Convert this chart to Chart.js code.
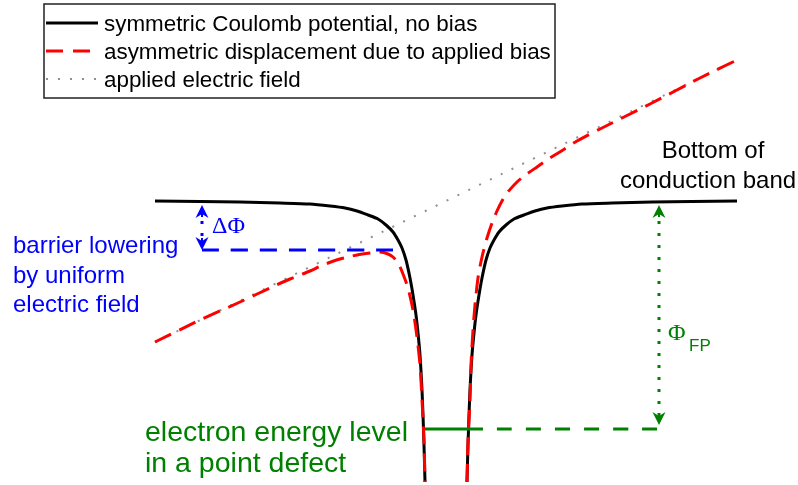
<!DOCTYPE html>
<html><head><meta charset="utf-8">
<script src="https://cdn.jsdelivr.net/npm/chart.js@4/dist/chart.umd.min.js"></script>
<style>html,body{margin:0;padding:0;background:#fff;}canvas{display:block;}</style>
</head><body>
<canvas id="c" width="798" height="485"></canvas>
<script>
// ---- data (position x, energy E; arbitrary units, E=0 at conduction band edge) ----
const seriesNames = ["symmetric Coulomb potential, no bias", "asymmetric displacement due to applied bias", "applied electric field"];

const blackLeftX = [-29.1,-24.6,-20.6,-16.6,-13.6,-11.6,-10.1,-8.9,-7.8,-6.8,-6.0,-5.3,-4.8,-4.4,-4.0,-3.6,-3.3,-3.0,-2.8,-2.6,-2.4,-2.3,-2.2,-2.1];
const blackLeftE = [0,-0.05,-0.1,-0.2,-0.3,-0.5,-0.7,-1.0,-1.4,-1.8,-2.4,-3.1,-3.9,-4.7,-5.9,-7.7,-9.4,-11.4,-13.2,-15.4,-18.9,-21.4,-24.4,-28.1];
const blackRightX = [2.1,2.2,2.3,2.4,2.6,2.8,3.0,3.3,3.6,4.0,4.4,4.8,5.3,6.0,6.8,7.8,8.9,10.1,11.6,13.6,16.6,20.6,24.6,29.1];
const blackRightE = [-28.1,-24.4,-21.4,-18.9,-15.4,-13.2,-11.4,-9.4,-7.7,-5.9,-4.7,-3.9,-3.1,-2.4,-1.8,-1.4,-1.0,-0.7,-0.5,-0.3,-0.2,-0.1,-0.05,0];

const redLeftX = [-29.1,-24.6,-20.6,-17.6,-15.6,-13.6,-12.3,-10.6,-8.9,-7.6,-6.6,-5.8,-5.3,-4.8,-4.3,-3.8,-3.3,-2.9,-2.6,-2.4,-2.2,-2.1];
const redLeftE = [-14.1,-11.9,-10.1,-8.7,-7.8,-7.0,-6.4,-5.8,-5.4,-5.2,-5.1,-5.3,-5.6,-6.2,-7.3,-8.7,-10.9,-13.6,-16.4,-19.9,-23.9,-28.1];
const redRightX = [2.1,2.2,2.4,2.5,2.7,2.9,3.2,3.6,4.1,4.6,5.1,5.6,6.1,7.1,8.1,9.1,10.4,11.7,13.1,15.4,20.4,25.4,29.1];
const redRightE = [-28.1,-23.9,-19.9,-16.4,-12.9,-10.4,-7.7,-5.6,-3.7,-2.2,-1.0,0,0.8,1.9,2.7,3.4,4.3,5.1,6.0,7.2,9.7,12.3,14.1];

const fieldX = [-29.1, 29.1];
const fieldE = [-14.1, 14.1];

const barrierX = [-24.4, -5.3];
const barrierE = [-4.9, -4.9];

const levelSolidX = [-2.1, 3.6];
const levelDashX = [3.6, 21.2];
const levelE = -22.8;

const deltaPhiArrow = {x: -24.4, top: -0.4, bottom: -4.9};
const phiFPArrow = {x: 21.3, top: -0.4, bottom: -22.4};

function pts(xs, ys){ return xs.map((x,i)=>({x:x, y: Array.isArray(ys) ? ys[i] : ys})); }

const BLACK = '#000000', RED = '#ff0000', GRAY = '#8f8f8f', BLUE = '#0000ff', GREEN = '#008000';
const SANS = '"Liberation Sans", Arial, sans-serif';
const SERIF = '"Liberation Serif", "Times New Roman", serif';

function head(ctx, x, tip, dir, color){
  ctx.save();
  ctx.fillStyle = color;
  ctx.beginPath();
  ctx.moveTo(x, tip);
  ctx.lineTo(x - 6.5, tip - dir*13);
  ctx.lineTo(x, tip - dir*9);
  ctx.lineTo(x + 6.5, tip - dir*13);
  ctx.closePath();
  ctx.fill();
  ctx.restore();
}
function dottedArrow(ctx, x, yTop, yBot, color){
  ctx.save();
  ctx.strokeStyle = color;
  ctx.lineWidth = 3;
  ctx.setLineDash([3, 9]);
  ctx.beginPath();
  ctx.moveTo(x, yTop + 16);
  ctx.lineTo(x, yBot - 10);
  ctx.stroke();
  ctx.setLineDash([]);
  ctx.lineWidth = 2;
  ctx.beginPath(); ctx.moveTo(x, yTop+2); ctx.lineTo(x, yTop+12); ctx.stroke();
  ctx.beginPath(); ctx.moveTo(x, yBot-2); ctx.lineTo(x, yBot-12); ctx.stroke();
  ctx.restore();
  head(ctx, x, yTop, -1, color);
  head(ctx, x, yBot, 1, color);
}

const annot = {
  id: 'annot',
  afterDatasetsDraw(chart){
    const ctx = chart.ctx, sx = chart.scales.x, sy = chart.scales.y;
    dottedArrow(ctx, sx.getPixelForValue(deltaPhiArrow.x), sy.getPixelForValue(deltaPhiArrow.top), sy.getPixelForValue(deltaPhiArrow.bottom), BLUE);
    dottedArrow(ctx, sx.getPixelForValue(phiFPArrow.x), sy.getPixelForValue(phiFPArrow.top), sy.getPixelForValue(phiFPArrow.bottom), GREEN);

    ctx.save();
    ctx.textBaseline = 'alphabetic';
    ctx.fillStyle = BLACK;
    ctx.font = '24px ' + SANS;
    ctx.textAlign = 'center';
    ctx.fillText('Bottom of', 713, 158);
    ctx.fillText('conduction band', 708, 188);

    ctx.textAlign = 'left';
    ctx.fillStyle = BLUE;
    ctx.fillText('barrier lowering', 13, 253);
    ctx.fillText('by uniform', 13, 283);
    ctx.fillText('electric field', 13, 312);
    ctx.font = '24px ' + SERIF;
    ctx.fillText('\u0394\u03A6', 212, 233);

    ctx.fillStyle = GREEN;
    ctx.font = '28.5px ' + SANS;
    ctx.fillText('electron energy level', 145, 441);
    ctx.fillText('in a point defect', 145, 472);
    ctx.font = '24px ' + SERIF;
    ctx.fillText('\u03A6', 668, 340);
    ctx.font = '17px ' + SANS;
    ctx.fillText('FP', 689, 351);

    // legend
    ctx.fillStyle = '#ffffff';
    ctx.fillRect(44, 4, 511, 94);
    ctx.strokeStyle = '#222';
    ctx.lineWidth = 1.5;
    ctx.strokeRect(44, 4, 511, 94);
    const rows = [23, 51, 79];
    const styles = [
      {c: BLACK, w: 3, d: []},
      {c: RED, w: 3, d: [17, 10]},
      {c: GRAY, w: 2, d: [2, 10]}
    ];
    ctx.font = '22.4px ' + SANS;
    for (let i = 0; i < 3; i++){
      ctx.save();
      ctx.strokeStyle = styles[i].c; ctx.lineWidth = styles[i].w; ctx.setLineDash(styles[i].d);
      ctx.beginPath(); ctx.moveTo(46, rows[i]); ctx.lineTo(98, rows[i]); ctx.stroke();
      ctx.restore();
      ctx.fillStyle = BLACK;
      ctx.fillText(seriesNames[i], 104, rows[i] + 8);
    }
    ctx.restore();
  }
};

const base = {pointRadius: 0, fill: false, showLine: true, tension: 0.25};
new Chart(document.getElementById('c'), {
  type: 'line',
  data: { datasets: [
    Object.assign({label: seriesNames[2], data: pts(fieldX, fieldE), borderColor: GRAY, borderWidth: 2, borderDash: [2, 10], order: 6}, base),
    Object.assign({label: seriesNames[0], data: pts(blackLeftX, blackLeftE), borderColor: BLACK, borderWidth: 3, order: 5}, base),
    Object.assign({label: seriesNames[0] + ' (right)', data: pts(blackRightX, blackRightE), borderColor: BLACK, borderWidth: 3, order: 5}, base),
    Object.assign({label: seriesNames[1], data: pts(redLeftX, redLeftE), borderColor: RED, borderWidth: 3, borderDash: [18, 9], order: 4}, base),
    Object.assign({label: seriesNames[1] + ' (right)', data: pts(redRightX, redRightE), borderColor: RED, borderWidth: 3, borderDash: [18, 9], order: 4}, base),
    Object.assign({label: 'barrier level', data: pts(barrierX, barrierE), borderColor: BLUE, borderWidth: 3, borderDash: [17, 12], order: 3}, base),
    Object.assign({label: 'defect level', data: pts(levelSolidX, levelE), borderColor: GREEN, borderWidth: 3, order: 2}, base),
    Object.assign({label: 'defect level (to CB)', data: pts(levelDashX, levelE), borderColor: GREEN, borderWidth: 3, borderDash: [15, 14], borderDashOffset: 14, order: 2}, base)
  ]},
  options: {
    responsive: false, animation: false,
    layout: {padding: 0},
    plugins: {legend: {display: false}, tooltip: {enabled: false}},
    scales: {
      x: {type: 'linear', min: -44.6, max: 35.2, display: false},
      y: {type: 'linear', min: -28.4, max: 20.1, display: false}
    }
  },
  plugins: [annot]
});
</script>
</body></html>
